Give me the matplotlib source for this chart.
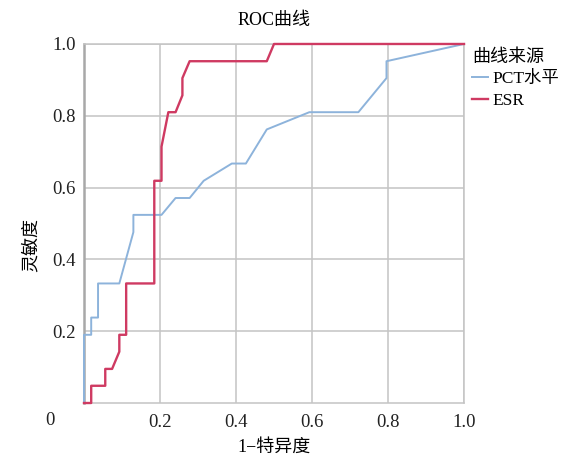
import matplotlib
matplotlib.use("Agg")
import matplotlib.pyplot as plt

plt.rcParams['font.family'] = ['Liberation Serif', 'Noto Sans CJK SC', 'DejaVu Sans']
plt.rcParams['axes.unicode_minus'] = False

# ROC points (1 - specificity, sensitivity)
pct_fpr = [0, 0, 0.019, 0.019, 0.037, 0.037, 0.093, 0.130, 0.130, 0.204, 0.241,
           0.278, 0.315, 0.389, 0.426, 0.481, 0.593, 0.722, 0.796, 0.796, 1.0]
pct_tpr = [0, 0.190, 0.190, 0.238, 0.238, 0.333, 0.333, 0.476, 0.524, 0.524, 0.571,
           0.571, 0.619, 0.667, 0.667, 0.762, 0.810, 0.810, 0.905, 0.952, 1.0]

esr_fpr = [0, 0.019, 0.019, 0.056, 0.056, 0.074, 0.093, 0.093, 0.111, 0.111, 0.185,
           0.185, 0.204, 0.204, 0.222, 0.241, 0.259, 0.259, 0.278, 0.481, 0.5, 1.0]
esr_tpr = [0, 0, 0.048, 0.048, 0.095, 0.095, 0.143, 0.190, 0.190, 0.333, 0.333,
           0.619, 0.619, 0.714, 0.810, 0.810, 0.857, 0.905, 0.952, 0.952, 1.0, 1.0]

ticks = [0.2, 0.4, 0.6, 0.8, 1.0]
tick_labels = ["0.2", "0.4", "0.6", "0.8", "1.0"]
series_names = ["PCT水平", "ESR"]

fig = plt.figure(figsize=(5.74, 4.61), dpi=100)
ax = fig.add_axes([0.1463, 0.1258, 0.8084 - 0.1463, 0.9046 - 0.1258])

ax.plot(pct_fpr, pct_tpr, color='#8db3db', linewidth=1.4, label=series_names[0], clip_on=False, zorder=3)
ax.plot(esr_fpr, esr_tpr, color='#cf3a62', linewidth=1.7, label=series_names[1], clip_on=False, zorder=4)

ax.set_xlim(0, 1)
ax.set_ylim(0, 1)
ax.set_xticks(ticks)
ax.set_xticklabels(tick_labels)
ax.set_yticks(ticks)
ax.set_yticklabels(tick_labels)
ax.tick_params(length=0, labelsize=13.5, colors='#222222')
ax.tick_params(axis='x', pad=8)
ax.tick_params(axis='y', pad=6)
ax.grid(True, color='#c4c4c4', linewidth=1.1)
ax.set_axisbelow(True)
for s in ['top', 'right', 'bottom']:
    ax.spines[s].set_color('#c4c4c4')
    ax.spines[s].set_linewidth(1.1)
ax.spines['left'].set_color('#a8a8a8')
ax.spines['left'].set_linewidth(1.8)

ax.annotate("0", xy=(0, 0), xytext=(-34, -17), textcoords='offset pixels',
            ha='center', va='center', fontsize=13.5, color='#222222')

ax.set_title("ROC曲线", fontsize=13, pad=14)
ax.set_xlabel("1−特异度", fontsize=13)
ax.set_ylabel("灵敏度", fontsize=13)
ax.xaxis.set_label_coords(0.5, -0.1226)
ax.xaxis.label.set_va('center')
ax.yaxis.set_label_coords(-0.139, 0.44)
ax.yaxis.label.set_va('center')

leg = ax.legend(title="曲线来源", loc='upper left', bbox_to_anchor=(0.99, 1.02),
                frameon=False, fontsize=12.5, title_fontsize=13, handlelength=0.9,
                handletextpad=0.25, labelspacing=0.3, borderpad=0.2)
leg._legend_box.align = "left"

fig.savefig("out.png", dpi=100)
